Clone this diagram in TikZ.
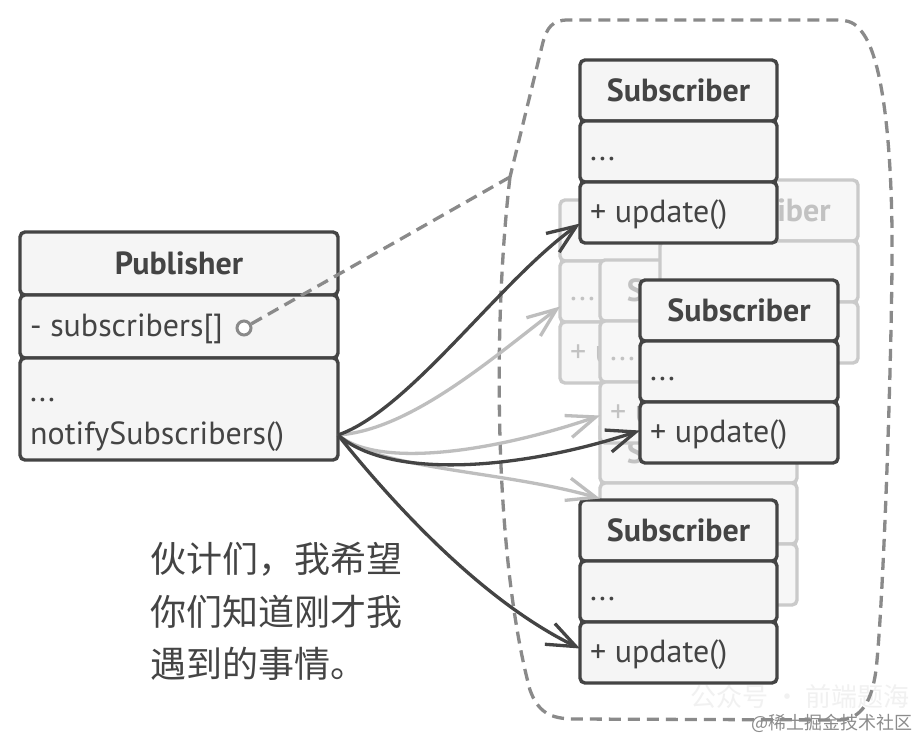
\documentclass[tikz,border=0pt]{standalone}
\usepackage{fontspec}
\setmainfont{PT Sans}
\newfontfamily\cjk{Noto Sans CJK SC}
\usetikzlibrary{arrows.meta}
\definecolor{dk}{HTML}{444444}
\definecolor{fl}{HTML}{F5F5F5}
\definecolor{lt}{HTML}{CACACA}
\definecolor{ltx}{HTML}{C2C2C2}
\definecolor{lfl}{HTML}{F7F7F7}
\definecolor{dsh}{HTML}{8A8A8A}
\definecolor{lar}{HTML}{BEBEBE}
\definecolor{wm}{HTML}{8C8C8C}
\definecolor{wmf}{HTML}{F1F1F1}
\tikzset{
  comp/.style={draw=dk, fill=fl, line width=3.4pt, rounded corners=5pt,
    minimum height=61pt, inner sep=0pt, outer sep=0pt, anchor=north west},
  lcomp/.style={comp, draw=lt, fill=lfl},
  ttl/.style={font=\bfseries\fontsize{32}{36}\selectfont, anchor=base, inner sep=0pt},
  txt/.style={font=\fontsize{32}{36}\selectfont, anchor=base west, inner sep=0pt},
  darr/.style={line width=3.3pt, draw=dk, -{Straight Barb[length=29pt,width=23pt,line width=3.3pt]}},
  larr/.style={darr, draw=lar},
}
% #1 name, #2 x, #3 y, #4 width, #5 comp style, #6 text colour, #7 attribute text
\newcommand\umlbox[7]{%
  \node[#5, minimum width=#4pt] (#1h) at (#2,#3) {};
  \node[#5, minimum width=#4pt] (#1a) at (#1h.south west) {};
  \node[#5, minimum width=#4pt] (#1m) at (#1a.south west) {};
  \node[ttl, text=#6] (#1t) at ([yshift=-11pt]#1h.center) {Subscriber};
  \node[txt, text=#6] (#1d) at ([xshift=10pt,yshift=-9pt]#1a.west) {#7};
  \node[txt, text=#6] (#1u) at ([xshift=10pt,yshift=-10pt]#1m.west) {+ update()};
}
\begin{document}
\begin{tikzpicture}[x=1pt,y=-1pt]
\useasboundingbox (0,0) rectangle (920,740);
\fill[white] (0,0) rectangle (920,740);

% watermark (faint)
\node[font=\cjk\fontsize{26}{30}\selectfont, text=wmf, anchor=west, inner sep=0pt] (wm1) at (690,697) {公众号 · 前端题海};

% dashed boundary
\coordinate (bnd) at (510,177);
\draw[dsh, line width=3.3pt, dash pattern=on 12pt off 7pt, line cap=butt]
  (bnd) .. controls (492,330) and (495,560) .. (530,690)
  .. controls (538,712) and (550,719) .. (575,719)
  -- (838,720)
  .. controls (862,720) and (872,700) .. (876,670)
  .. controls (884,600) and (893,320) .. (892,230)
  .. controls (891,150) and (884,60) .. (862,32)
  .. controls (855,23) and (850,20) .. (835,20)
  -- (568,20)
  .. controls (552,20) and (547,28) .. (543,42)
  -- (bnd);

% faded subscribers
\umlbox{B}{560}{200}{198}{lcomp}{ltx}{...}
\umlbox{D}{600}{422}{197}{lcomp}{ltx}{...}
\umlbox{C}{600}{260}{197}{lcomp}{ltx}{...}
\umlbox{A}{660}{180}{198}{lcomp}{ltx}{}

% dark subscribers
\umlbox{S1}{580}{60}{197}{comp}{dk}{...}
\umlbox{S2}{640}{280}{198}{comp}{dk}{...}
\umlbox{S3}{580}{500}{197}{comp}{dk}{...}

% publisher
\node[comp, minimum width=318pt, minimum height=63pt] (ph) at (20,232) {};
\node[comp, minimum width=318pt, minimum height=63pt] (pa) at (ph.south west) {};
\node[comp, minimum width=318pt, minimum height=102pt] (pm) at (pa.south west) {};
\node[ttl, text=dk] (pt) at ([yshift=-11pt]ph.center) {Publisher};
\node[txt, text=dk] (ps) at ([xshift=10pt,yshift=-10pt]pa.west) {- subscribers[]};
\node[txt, text=dk] (pd) at (30,401) {...};
\node[txt, text=dk] (pn) at (30,444) {notifySubscribers()};
\node[circle, draw=dsh, fill=white, line width=3pt, minimum size=14pt, inner sep=0pt] (pc) at (244,328) {};
\draw[dsh, line width=3.3pt, dash pattern=on 12pt off 7pt] (pc) -- (bnd);

% arrows
\coordinate (src) at ([yshift=-26pt]pm.east);
\coordinate (tB) at ([yshift=-15pt]Ba.west);
\coordinate (tC) at ([yshift=-3pt]Cm.west);
\coordinate (tD) at ([yshift=15pt]Da.west);
\coordinate (t1) at ([yshift=-11pt]S1m.west);
\coordinate (t2) at ([yshift=2pt]S2m.west);
\coordinate (t3) at ([yshift=4pt]S3m.west);
\draw[larr] (src) .. controls (410,430) and (490,360) .. (tB);
\draw[larr] (src) .. controls (380,470) and (500,450) .. (tC);
\draw[larr] (src) .. controls (380,470) and (500,470) .. (tD);
\draw[darr] (src) .. controls (410,410) and (500,280) .. (t1);
\draw[darr] (src) .. controls (390,480) and (520,470) .. (t2);
\draw[darr] (src) .. controls (390,500) and (480,600) .. (t3);

% speech text
\node[font=\cjk\fontsize{36}{52.5}\selectfont, text=dk, align=left, anchor=north west, inner sep=0pt] (say) at (150,542)
  {伙计们，我希望\\你们知道刚才我\\遇到的事情。};

% watermark
\node[font=\cjk\fontsize{18}{20}\selectfont, text=wm, anchor=east, inner sep=0pt] (wm2) at (913,723) {@稀土掘金技术社区};
\end{tikzpicture}
\end{document}
